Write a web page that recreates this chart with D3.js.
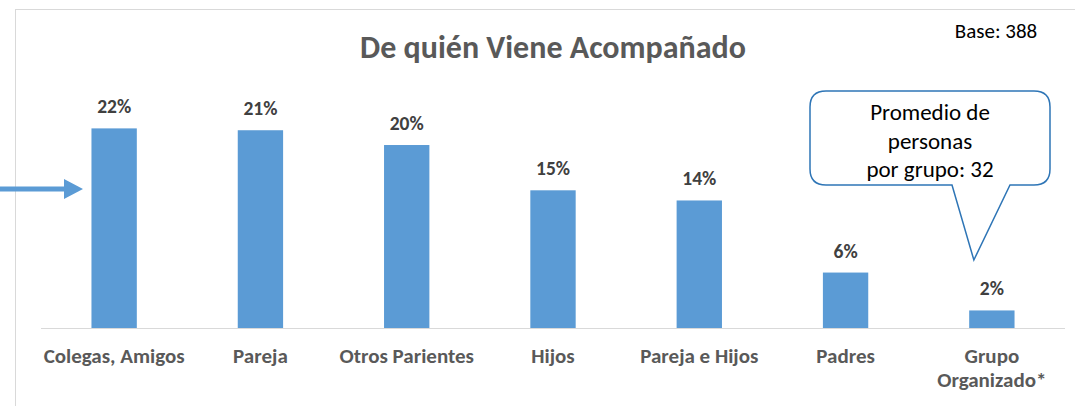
<!DOCTYPE html>
<html>
<head>
<meta charset="utf-8">
<script src="https://cdn.jsdelivr.net/npm/d3@7"></script>
<style>
  body { margin: 0; background: #fff; }
  svg { display: block; font-family: Calibri, Carlito, "Open Sans", sans-serif; }
</style>
</head>
<body>
<div id="chart"></div>
<script>
// data
var categories = ["Colegas, Amigos", "Pareja", "Otros Parientes", "Hijos", "Pareja e Hijos", "Padres", "Grupo Organizado*"];
var values = [21.6, 21.4, 19.8, 14.9, 13.8, 6.0, 1.9];
var labels = ["22%", "21%", "20%", "15%", "14%", "6%", "2%"];
var calloutLines = ["Promedio de", "personas", "por grupo: 32"];

var W = 1075, H = 406;
var margin = {top: 60, right: 10, bottom: 78, left: 41};
var plotW = 1065 - margin.left, baseY = 328;

var svg = d3.select("#chart").append("svg")
    .attr("width", W).attr("height", H);

// chart frame (top and left edges visible)
svg.append("line").attr("x1", 15).attr("x2", W).attr("y1", 9.5).attr("y2", 9.5)
    .attr("stroke", "#d9d9d9");
svg.append("line").attr("x1", 15.5).attr("x2", 15.5).attr("y1", 9).attr("y2", H)
    .attr("stroke", "#d9d9d9");

var x = d3.scaleBand()
    .domain(categories)
    .range([margin.left, margin.left + plotW])
    .paddingInner(0.69)
    .paddingOuter(0.345);

var y = d3.scaleLinear()
    .domain([0, 29])
    .range([baseY, baseY - 268]);

// bars
svg.selectAll(".bar")
    .data(values)
    .enter().append("rect")
    .attr("class", "bar")
    .attr("x", function(d, i) { return x(categories[i]); })
    .attr("y", function(d) { return y(d); })
    .attr("width", x.bandwidth())
    .attr("height", function(d) { return y(0) - y(d); })
    .attr("fill", "#5b9bd5");

// value labels
svg.selectAll(".val")
    .data(values)
    .enter().append("text")
    .attr("class", "val")
    .attr("x", function(d, i) { return x(categories[i]) + x.bandwidth() / 2; })
    .attr("y", function(d) { return y(d) - 15; })
    .attr("text-anchor", "middle")
    .attr("font-size", 19.5)
    .attr("font-weight", "bold")
    .attr("fill", "#404040")
    .text(function(d, i) { return labels[i]; });

// x axis
var xAxis = svg.append("g")
    .attr("transform", "translate(0," + baseY + ")")
    .call(d3.axisBottom(x).tickSize(0).tickPadding(0));
xAxis.attr("font-family", null).attr("font-size", null);
xAxis.select(".domain").attr("stroke", "#d9d9d9").attr("d", "M" + margin.left + ",0.5H1065");
xAxis.selectAll(".tick text").remove();
xAxis.selectAll(".tick").each(function(d) {
    var t = d3.select(this).append("text")
        .attr("text-anchor", "middle")
        .attr("font-size", 21)
        .attr("font-weight", "bold")
        .attr("fill", "#595959");
    var parts = d === "Grupo Organizado*" ? ["Grupo", "Organizado*"] : [d];
    parts.forEach(function(p, k) {
        t.append("tspan").attr("x", 0).attr("y", 35 + k * 24).text(p);
    });
});

// title
svg.append("text")
    .attr("x", 553).attr("y", 58)
    .attr("text-anchor", "middle")
    .attr("font-size", 32)
    .attr("font-weight", "bold")
    .attr("fill", "#595959")
    .text("De quién Viene Acompañado");

// base note
svg.append("text")
    .attr("x", 996).attr("y", 38)
    .attr("text-anchor", "middle")
    .attr("font-size", 21)
    .attr("fill", "#000")
    .text("Base: 388");

// arrow pointing to first bar
svg.append("path")
    .attr("d", "M0,186.5H64V179L83,189L64,199V191.5H0Z")
    .attr("fill", "#5b9bd5");

// callout
var cx0 = 810, cx1 = 1050, cy0 = 91, cy1 = 185, r = 16;
var tipX = x("Grupo Organizado*") + x.bandwidth() / 2 - 18;
svg.append("path")
    .attr("d", "M" + (cx0 + r) + "," + cy0 + "H" + (cx1 - r) +
        "Q" + cx1 + "," + cy0 + " " + cx1 + "," + (cy0 + r) +
        "V" + (cy1 - r) +
        "Q" + cx1 + "," + cy1 + " " + (cx1 - r) + "," + cy1 +
        "H1010L" + tipX + ",260L952," + cy1 +
        "H" + (cx0 + r) +
        "Q" + cx0 + "," + cy1 + " " + cx0 + "," + (cy1 - r) +
        "V" + (cy0 + r) +
        "Q" + cx0 + "," + cy0 + " " + (cx0 + r) + "," + cy0 + "Z")
    .attr("fill", "#fff")
    .attr("stroke", "#2e75b6")
    .attr("stroke-width", 1.5);

svg.append("text")
    .attr("text-anchor", "middle")
    .attr("font-size", 23)
    .attr("fill", "#000")
    .selectAll("tspan")
    .data(calloutLines)
    .enter().append("tspan")
    .attr("x", 930)
    .attr("y", function(d, i) { return 120 + i * 28.5; })
    .text(function(d) { return d; });
</script>
</body>
</html>
